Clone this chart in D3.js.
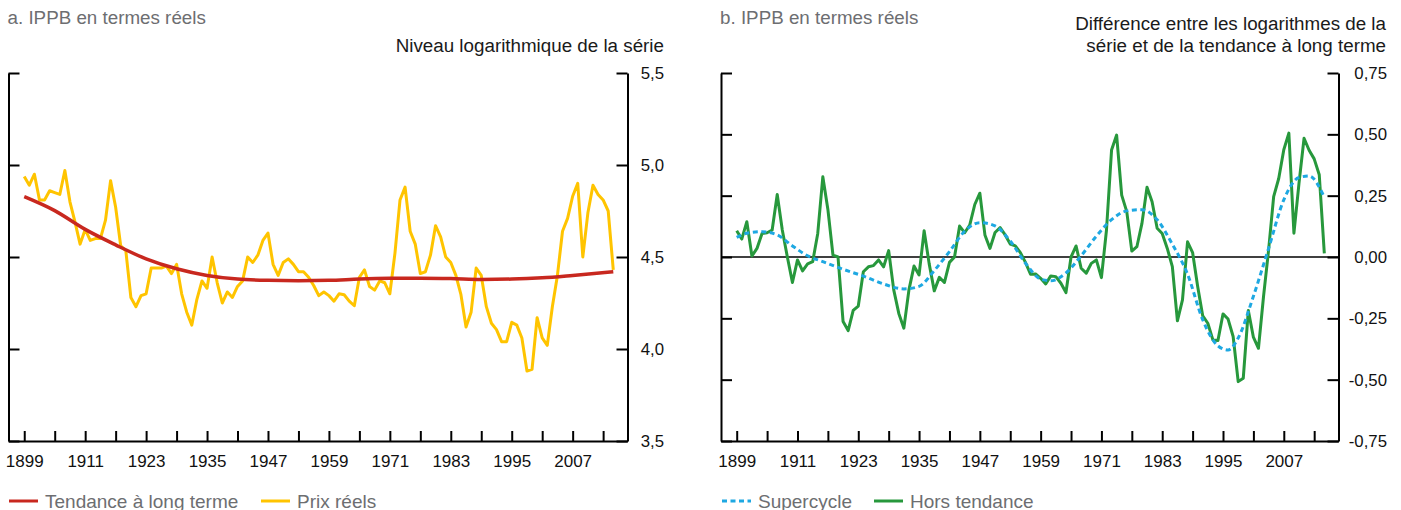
<!DOCTYPE html>
<html>
<head>
<meta charset="utf-8">
<script src="https://cdn.jsdelivr.net/npm/d3@7"></script>
<style>
  html, body { margin: 0; padding: 0; background: #fff; }
  svg { display: block; }
  text { font-family: "Liberation Sans", Arial, Helvetica, sans-serif; }
</style>
</head>
<body>
<svg id="chart" width="1401" height="510"></svg>
<script>
// ---------- DATA ----------
const firstYear = 1899, lastYear = 2015;
const years = d3.range(firstYear, lastYear + 1);

// Panel a: log level of real BCPI (Prix réels)
const prixReels = [
  4.937,4.89,4.95,4.81,4.81,4.86,4.85,4.84,4.97,4.80,
  4.69,4.57,4.65,4.59,4.60,4.60,4.70,4.915,4.77,4.56,
  4.535,4.28,4.23,4.29,4.30,4.44,4.44,4.44,4.45,4.41,
  4.46,4.30,4.20,4.13,4.27,4.37,4.33,4.50,4.36,4.25,
  4.31,4.28,4.34,4.37,4.50,4.47,4.51,4.59,4.63,4.46,
  4.40,4.47,4.49,4.46,4.42,4.42,4.39,4.345,4.29,4.31,
  4.29,4.26,4.30,4.295,4.26,4.235,4.39,4.43,4.34,4.32,
  4.37,4.36,4.30,4.52,4.81,4.88,4.64,4.57,4.41,4.42,
  4.51,4.67,4.61,4.50,4.47,4.40,4.295,4.12,4.20,4.44,
  4.40,4.23,4.14,4.105,4.04,4.04,4.145,4.13,4.06,3.88,
  3.89,4.17,4.06,4.02,4.23,4.40,4.64,4.71,4.83,4.90,
  4.50,4.74,4.89,4.84,4.81,4.75,4.43
];

// Panel a: long-term trend (Tendance à long terme), read at these years
const trendYears  = [1899,1905,1911,1917,1923,1929,1935,1941,1947,1953,1959,1965,1971,1977,1983,1989,1995,2001,2007,2015];
const trendValues = [4.828,4.752,4.65,4.566,4.49,4.436,4.40,4.38,4.373,4.371,4.373,4.38,4.384,4.385,4.383,4.378,4.38,4.387,4.40,4.42];

// Panel b: deviation from trend (Hors tendance)
const horsTendance = [
  0.107,0.073,0.144,0.004,0.035,0.096,0.099,0.11,0.255,0.11,
  0.0,-0.104,-0.012,-0.057,-0.028,-0.019,0.096,0.327,0.194,0.008,
  0.0,-0.263,-0.30,-0.218,-0.20,-0.06,-0.04,-0.035,-0.012,-0.04,
  0.026,-0.134,-0.23,-0.29,-0.134,-0.037,-0.073,0.107,-0.028,-0.138,
  -0.083,-0.104,-0.022,0.0,0.126,0.099,0.13,0.214,0.26,0.09,
  0.035,0.10,0.12,0.09,0.053,0.045,0.018,-0.022,-0.07,-0.069,
  -0.087,-0.11,-0.077,-0.08,-0.107,-0.145,0.0,0.045,-0.046,-0.066,
  -0.026,-0.012,-0.084,0.11,0.436,0.497,0.252,0.185,0.024,0.042,
  0.137,0.284,0.225,0.117,0.096,0.035,-0.039,-0.26,-0.175,0.062,
  0.018,-0.12,-0.24,-0.27,-0.338,-0.34,-0.232,-0.253,-0.324,-0.508,
  -0.494,-0.218,-0.327,-0.372,-0.161,0.028,0.246,0.32,0.437,0.505,
  0.097,0.30,0.484,0.435,0.40,0.335,0.015
];

// Panel b: supercycle, read at these years
const superYears  = [1899,1901,1904,1907,1910,1913,1916,1920,1924,1928,1932,1935,1938,1941,1944,1947,1950,1953,1956,1959,1961,1964,1967,1970,1973,1976,1979,1982,1985,1988,1991,1994,1996,1998,2001,2004,2007,2010,2012,2015];
const superValues = [0.08,0.097,0.103,0.09,0.045,0.005,-0.019,-0.05,-0.078,-0.11,-0.13,-0.12,-0.055,0.022,0.105,0.14,0.127,0.065,-0.025,-0.09,-0.097,-0.065,0.005,0.085,0.152,0.188,0.193,0.152,0.052,-0.07,-0.256,-0.362,-0.379,-0.33,-0.16,0.035,0.233,0.324,0.33,0.243];

// Axis ticks / labels
const xMinorTicks = d3.range(1899, 2014, 6);
const xLabelTicks = [1899,1911,1923,1935,1947,1959,1971,1983,1995,2007];
const yTicksA = [3.5, 4.0, 4.5, 5.0, 5.5];
const yTicksB = [-0.75, -0.5, -0.25, 0, 0.25, 0.5, 0.75];

const titleA = "a. IPPB en termes réels";
const titleB = "b. IPPB en termes réels";
const unitA = ["Niveau logarithmique de la série"];
const unitB = ["Différence entre les logarithmes de la", "série et de la tendance à long terme"];
const legendA = [{label: "Tendance à long terme", color: "#c8281f", dash: null},
                 {label: "Prix réels", color: "#ffc400", dash: null}];
const legendB = [{label: "Supercycle", color: "#1ea8e2", dash: "5,3.5"},
                 {label: "Hors tendance", color: "#27983c", dash: null}];

// ---------- LAYOUT ----------
const svg = d3.select("#chart");
svg.append("rect").attr("width", 1401).attr("height", 510).attr("fill", "#fff");

const plotTop = 73, plotBottom = 441;
const xDomain = [1895.9, 2017.8];
const fmt = d => d3.format(".1f")(d).replace(".", ",").replace("−", "-");
const fmt2 = d => d3.format(".2f")(d).replace(".", ",").replace("−", "-");

function panel(opts) {
  const g = svg.append("g");
  const x = d3.scaleLinear().domain(xDomain).range([opts.left, opts.right]);
  const y = d3.scaleLinear().domain(opts.yDomain).range([plotBottom, plotTop]);

  g.append("text").attr("x", opts.left - 1).attr("y", 24)
    .attr("font-size", 18.8).attr("fill", "#6d6e71").text(opts.title);
  opts.unit.forEach((t, i) => {
    g.append("text").attr("x", opts.unitX)
      .attr("y", opts.unit.length === 1 ? 52 : 30 + i * 22)
      .attr("text-anchor", "end").attr("font-size", 18.8).attr("fill", "#1a1a1a").text(t);
  });

  const ax = g.append("g").attr("transform", `translate(${opts.left},0)`)
    .call(d3.axisRight(y).tickValues(opts.yTicks).tickSize(11).tickSizeOuter(0).tickFormat(""));
  const ax2 = g.append("g").attr("transform", `translate(${opts.right},0)`)
    .call(d3.axisLeft(y).tickValues(opts.yTicks).tickSize(11).tickSizeOuter(0).tickFormat(""));
  const ax3 = g.append("g").attr("transform", `translate(0,${plotBottom})`)
    .call(d3.axisTop(x).tickValues(xMinorTicks).tickSize(10).tickSizeOuter(0).tickFormat(""));
  [ax, ax2, ax3].forEach(a => {
    a.selectAll("path.domain").attr("stroke", "#000").attr("stroke-width", 2);
    a.selectAll(".tick line").attr("stroke", "#000").attr("stroke-width", 2);
  });
  const ax4 = g.append("g").attr("transform", `translate(0,${plotBottom})`)
    .call(d3.axisBottom(x).tickValues(xLabelTicks).tickSize(0).tickPadding(13.5).tickFormat(d3.format("d")));
  ax4.select("path.domain").remove();
  ax4.selectAll("text").attr("font-size", 17).attr("fill", "#111")
    .style("font-family", "'Liberation Sans', Arial, sans-serif");

  g.selectAll("text.ylab").data(opts.yTicks).enter().append("text")
    .attr("class", "ylab")
    .attr("x", opts.labelEndX).attr("y", d => y(d)).attr("dy", "0.36em")
    .attr("text-anchor", "end").attr("font-size", 16.8).attr("fill", "#111")
    .text(opts.yFmt);

  return {g, x, y};
}

// ---------- PANEL A ----------
const A = panel({
  left: 8.5, right: 627.5, yDomain: [3.5, 5.5], yTicks: yTicksA,
  title: titleA, unit: unitA, unitX: 664, labelEndX: 664, yFmt: fmt
});
A.g.append("path")
  .datum(years.map((yr, i) => [yr, prixReels[i]]))
  .attr("d", d3.line().x(d => A.x(d[0])).y(d => A.y(d[1])))
  .attr("fill", "none").attr("stroke", "#ffc400")
  .attr("stroke-width", 3).attr("stroke-linejoin", "round");
A.g.append("path")
  .datum(trendYears.map((yr, i) => [yr, trendValues[i]]))
  .attr("d", d3.line().x(d => A.x(d[0])).y(d => A.y(d[1])).curve(d3.curveMonotoneX))
  .attr("fill", "none").attr("stroke", "#c8281f").attr("stroke-width", 3.5);

// ---------- PANEL B ----------
const B = panel({
  left: 721, right: 1338.5, yDomain: [-0.75, 0.75], yTicks: yTicksB,
  title: titleB, unit: unitB, unitX: 1386, labelEndX: 1387, yFmt: fmt2
});
B.g.append("line").attr("x1", B.x(xDomain[0])).attr("x2", B.x(xDomain[1]))
  .attr("y1", B.y(0)).attr("y2", B.y(0)).attr("stroke", "#000").attr("stroke-width", 1.5);
B.g.append("path")
  .datum(years.map((yr, i) => [yr, horsTendance[i]]))
  .attr("d", d3.line().x(d => B.x(d[0])).y(d => B.y(d[1])))
  .attr("fill", "none").attr("stroke", "#27983c")
  .attr("stroke-width", 3).attr("stroke-linejoin", "round");
B.g.append("path")
  .datum(superYears.map((yr, i) => [yr, superValues[i]]))
  .attr("d", d3.line().x(d => B.x(d[0])).y(d => B.y(d[1])).curve(d3.curveMonotoneX))
  .attr("fill", "none").attr("stroke", "#1ea8e2")
  .attr("stroke-width", 3).attr("stroke-dasharray", "5,3.5");

// ---------- LEGENDS ----------
function legend(items, positions) {
  items.forEach((it, i) => {
    const p = positions[i];
    svg.append("line").attr("x1", p).attr("x2", p + 29).attr("y1", 501).attr("y2", 501)
      .attr("stroke", it.color).attr("stroke-width", 3)
      .attr("stroke-dasharray", it.dash);
    svg.append("text").attr("x", p + 36).attr("y", 507.5)
      .attr("font-size", 19).attr("fill", "#6d6e71").text(it.label);
  });
}
legend(legendA, [9, 261]);
legend(legendB, [722, 874]);
</script>
</body>
</html>
